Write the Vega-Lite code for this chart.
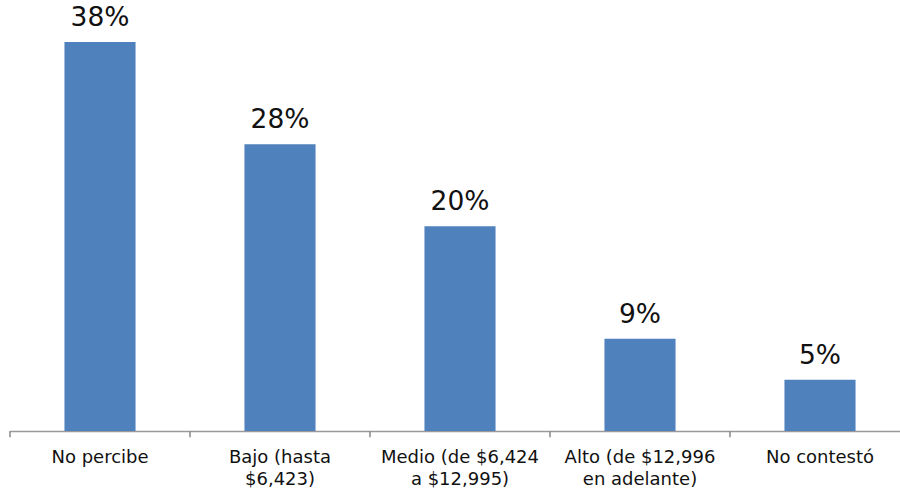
{
  "$schema": "https://vega.github.io/schema/vega-lite/v6.json",
  "width": 900,
  "height": 431,
  "autosize": "none",
  "padding": {"left": 10, "top": 0, "right": 0, "bottom": 62},
  "background": "white",
  "config": {"view": {"stroke": null}},
  "data": {
    "values": [
      {"categoria": "No percibe", "valor": 38, "etiqueta": "38%"},
      {"categoria": "Bajo (hasta|$6,423)", "valor": 28, "etiqueta": "28%"},
      {"categoria": "Medio (de $6,424|a $12,995)", "valor": 20, "etiqueta": "20%"},
      {"categoria": "Alto (de $12,996|en adelante)", "valor": 9, "etiqueta": "9%"},
      {"categoria": "No contestó", "valor": 5, "etiqueta": "5%"}
    ]
  },
  "encoding": {
    "x": {
      "field": "categoria",
      "type": "nominal",
      "sort": null,
      "scale": {"paddingInner": 0.605, "paddingOuter": 0.3025},
      "axis": {
        "title": null,
        "labelAngle": 0,
        "labelExpr": "datum.value ? split(datum.value, '|') : ''",
        "labelFont": "DejaVu Sans",
        "labelFontSize": 18,
        "labelColor": "#111",
        "labelPadding": 17,
        "labelLineHeight": 22,
        "labelBaseline": "top",
        "ticks": false,
        "domainColor": "#999",
        "domainWidth": 1.5
      }
    },
    "y": {
      "field": "valor",
      "type": "quantitative",
      "scale": {"domain": [0, 42.1], "nice": false},
      "axis": null
    }
  },
  "layer": [
    {"mark": {"type": "bar", "color": "#4F81BD"}},
    {
      "mark": {"type": "rule", "color": "#888", "strokeWidth": 1.5, "clip": false},
      "encoding": {
        "x": {"field": "categoria", "type": "nominal", "sort": null, "bandPosition": -0.766},
        "y": {"datum": 0},
        "y2": {"datum": -0.6}
      }
    },
    {
      "mark": {"type": "text", "baseline": "alphabetic", "dy": -16, "font": "DejaVu Sans", "fontSize": 26.5, "color": "#111"},
      "encoding": {"text": {"field": "etiqueta"}}
    }
  ]
}
